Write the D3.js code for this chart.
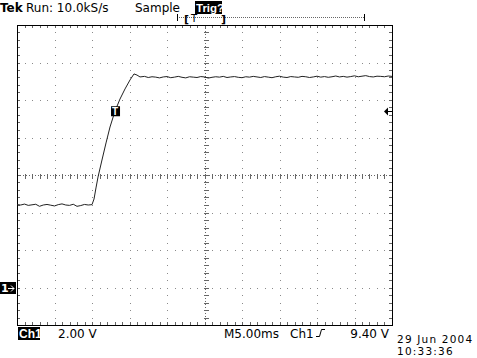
<!DOCTYPE html>
<html>
<head>
<meta charset="utf-8">
<script src="https://cdn.jsdelivr.net/npm/d3@7"></script>
<style>
  body { margin: 0; background: #fff; }
  svg { display: block; }
  text { font-family: "DejaVu Sans", sans-serif; font-size: 12px; fill: #000; }
</style>
</head>
<body>
<div id="chart"></div>
<script>
// time base: 5 ms/div, 10 divisions; Ch1: 2 V/div, ground 3 div below centre
const timeDivs = [0, 5, 10, 15, 20, 25, 30, 35, 40, 45, 50];
const voltDivs = [-2, 0, 2, 4, 6, 8, 10, 12, 14];

// waveform (ms, V)
const timeMs = [
  0, 0.5, 1, 1.5, 2, 2.5, 3, 3.5, 4, 4.5, 5, 5.5, 6, 6.5, 7, 7.5, 8, 8.5, 9, 9.5,
  10, 10.27, 10.53, 10.8, 11.33, 11.87, 12.4, 13.07, 13.73, 14.4, 15.07, 15.6, 16.0, 16.4,
  17, 17.5, 18, 18.5, 19, 19.5, 20, 20.5, 21, 21.5, 22, 22.5, 23, 23.5, 24, 24.5,
  25, 25.5, 26, 26.5, 27, 27.5, 28, 28.5, 29, 29.5, 30, 30.5, 31, 31.5, 32, 32.5,
  33, 33.5, 34, 34.5, 35, 35.5, 36, 36.5, 37, 37.5, 38, 38.5, 39, 39.5, 40, 40.5,
  41, 41.5, 42, 42.5, 43, 43.5, 44, 44.5, 45, 45.5, 46, 46.5, 47, 47.5, 48, 48.5,
  49, 49.5, 50
];
const ch1Volts = [
  4.42, 4.40, 4.45, 4.38, 4.41, 4.44, 4.33, 4.40, 4.43, 4.39, 4.35, 4.42, 4.46, 4.40, 4.38, 4.44, 4.33, 4.37, 4.43, 4.40,
  4.42, 4.72, 5.31, 5.89, 6.80, 7.71, 8.56, 9.41, 10.05, 10.59, 11.07, 11.39, 11.33, 11.23,
  11.26, 11.20, 11.24, 11.22, 11.18, 11.23, 11.25, 11.19, 11.22, 11.26, 11.21, 11.18, 11.24, 11.22, 11.20, 11.25,
  11.23, 11.17, 11.21, 11.24, 11.22, 11.26, 11.20, 11.23, 11.25, 11.21, 11.19, 11.24, 11.22, 11.26, 11.23, 11.20,
  11.25, 11.22, 11.19, 11.24, 11.27, 11.22, 11.20, 11.25, 11.23, 11.21, 11.26, 11.24, 11.20, 11.23, 11.27, 11.22,
  11.25, 11.21, 11.24, 11.28, 11.23, 11.26, 11.22, 11.25, 11.29, 11.24, 11.27, 11.30, 11.25, 11.23, 11.27, 11.26,
  11.24, 11.28, 11.26
];

const triggerLevel = 9.40;
const triggerTime = 13.07;

const width = 477, height = 358;
const frame = { left: 17, right: 392, top: 25, bottom: 325 };

const svg = d3.select("#chart").append("svg")
  .attr("width", width)
  .attr("height", height);

const x = d3.scaleLinear().domain([0, 50]).range([frame.left, frame.right]);
const y = d3.scaleLinear().domain([-2, 14]).range([frame.bottom, frame.top]);

const px = (v) => Math.round(v) + 0.5;
const minorX = d3.range(0, 50.01, 1);    // 0.2 div steps
const minorY = d3.range(-2, 14.01, 0.4);

// dotted graticule
const grid = svg.append("g").attr("class", "grid").attr("fill", "#8a8a8a");
timeDivs.slice(1, -1).filter((t) => t !== 25).forEach((t) => {
  grid.selectAll(null).data(minorY).enter().append("rect")
    .attr("x", Math.round(x(t))).attr("y", (v) => Math.round(y(v)))
    .attr("width", 1).attr("height", 1);
});
voltDivs.slice(1, -1).filter((v) => v !== 6).forEach((v) => {
  grid.selectAll(null).data(minorX).enter().append("rect")
    .attr("x", (t) => Math.round(x(t))).attr("y", Math.round(y(v)))
    .attr("width", 1).attr("height", 1);
});

// centre cross with minor ticks
const cross = svg.append("g").attr("stroke", "#666").attr("shape-rendering", "crispEdges");
const cx = px(x(25)), cy = px(y(6));
cross.append("line").attr("x1", cx).attr("x2", cx).attr("y1", frame.top).attr("y2", frame.bottom)
  .attr("stroke-dasharray", "1,2");
cross.append("line").attr("y1", cy).attr("y2", cy).attr("x1", frame.left).attr("x2", frame.right)
  .attr("stroke-dasharray", "1,2");
cross.selectAll(".vt").data(minorY).enter().append("line")
  .attr("x1", cx - 2).attr("x2", cx + 3).attr("y1", (v) => px(y(v))).attr("y2", (v) => px(y(v)));
cross.selectAll(".ht").data(minorX).enter().append("line")
  .attr("y1", cy - 2).attr("y2", cy + 3).attr("x1", (t) => px(x(t))).attr("x2", (t) => px(x(t)));

// frame ticks
const ticks = svg.append("g").attr("stroke", "#666").attr("shape-rendering", "crispEdges");
ticks.selectAll(".tt").data(minorX).enter().append("line")
  .attr("x1", (t) => px(x(t))).attr("x2", (t) => px(x(t)))
  .attr("y1", frame.top).attr("y2", frame.top + 3);
ticks.selectAll(".bt").data(minorX).enter().append("line")
  .attr("x1", (t) => px(x(t))).attr("x2", (t) => px(x(t)))
  .attr("y1", frame.bottom).attr("y2", frame.bottom - 3);
ticks.selectAll(".lt").data(minorY).enter().append("line")
  .attr("y1", (v) => px(y(v))).attr("y2", (v) => px(y(v)))
  .attr("x1", frame.left).attr("x2", frame.left + 3);
ticks.selectAll(".rt").data(minorY).enter().append("line")
  .attr("y1", (v) => px(y(v))).attr("y2", (v) => px(y(v)))
  .attr("x1", frame.right).attr("x2", frame.right - 3);

// frame
svg.append("rect")
  .attr("x", px(frame.left)).attr("y", px(frame.top))
  .attr("width", Math.round(frame.right - frame.left)).attr("height", frame.bottom - frame.top)
  .attr("fill", "none").attr("stroke", "#000").attr("shape-rendering", "crispEdges");

// waveform
const wave = timeMs.map((t, i) => [t, ch1Volts[i]]);
svg.append("path")
  .datum(wave)
  .attr("fill", "none")
  .attr("stroke", "#222")
  .attr("stroke-width", 1)
  .attr("d", d3.line().x((d) => x(d[0])).y((d) => y(d[1])));

// boxed label helper (white text on black)
function boxLabel(g, bx, by, w, h, txt, tx, ty, size) {
  g.append("rect").attr("x", bx).attr("y", by).attr("width", w).attr("height", h).attr("fill", "#000");
  g.append("text").attr("x", tx).attr("y", ty).style("fill", "#fff")
    .style("font-family", "'Liberation Sans', Arial, sans-serif")
    .style("font-size", size || "12px").style("font-weight", "bold").text(txt);
}

// trigger point marker on the trace
const mk = svg.append("g");
boxLabel(mk, x(triggerTime) - 4, y(triggerLevel) - 5, 9, 10, "T", x(triggerTime) - 3, y(triggerLevel) + 4, "10px");

// trigger level arrow at right edge
const ty = Math.round(y(triggerLevel)) + 0.5;
svg.append("path")
  .attr("d", `M${frame.right - 8},${ty} L${frame.right - 4},${ty - 4} L${frame.right - 4},${ty + 4} Z`)
  .attr("fill", "#000");
svg.append("line").attr("x1", frame.right - 4).attr("x2", frame.right).attr("y1", ty).attr("y2", ty)
  .attr("stroke", "#000");

// ground marker "1->"
const gy = Math.round(y(0));
const gm = svg.append("g");
gm.append("rect").attr("x", 0).attr("y", gy - 6).attr("width", 16).attr("height", 12).attr("fill", "#000");
gm.append("text").attr("x", 1).attr("y", gy + 4).style("fill", "#fff").style("font-weight", "bold")
  .style("font-size", "11px").text("1");
gm.append("path").attr("d", `M8,${gy + 0.5} L14,${gy + 0.5} M11,${gy - 2.5} L14,${gy + 0.5} L11,${gy + 3.5}`)
  .attr("stroke", "#fff").attr("fill", "none");

// header
const head = svg.append("g");
head.append("text").attr("x", 0).attr("y", 12).style("font-weight", "bold").text("Tek");
head.append("text").attr("x", 26).attr("y", 12).text("Run: 10.0kS/s");
head.append("text").attr("x", 135).attr("y", 12).text("Sample");
boxLabel(head, 195, 1, 27, 13, "Trig?", 196, 12, "11.5px");

// record position bar
const bar = svg.append("g").attr("stroke", "#000").attr("shape-rendering", "crispEdges");
bar.append("line").attr("x1", 177).attr("x2", 364).attr("y1", 17.5).attr("y2", 17.5)
  .attr("stroke", "#666").attr("stroke-dasharray", "1,1");
bar.append("line").attr("x1", 177.5).attr("x2", 177.5).attr("y1", 14).attr("y2", 21);
bar.append("line").attr("x1", 364.5).attr("x2", 364.5).attr("y1", 14).attr("y2", 21);
svg.append("text").attr("x", 184).attr("y", 23).style("font-weight", "bold").style("font-size", "11px").text("[");
svg.append("text").attr("x", 191).attr("y", 22).style("font-size", "10px").text("T");
svg.append("text").attr("x", 221).attr("y", 23).style("font-weight", "bold").style("font-size", "11px").text("]");

// footer
const foot = svg.append("g");
boxLabel(foot, 18, 327, 22, 13, "Ch1", 19, 338, "12px");
foot.append("text").attr("x", 58).attr("y", 338).text("2.00 V");
foot.append("text").attr("x", 224).attr("y", 338).text("M5.00ms");
foot.append("text").attr("x", 290).attr("y", 338).text("Ch1");
foot.append("path").attr("d", "M316,336.5 L319.5,336.5 L321.5,329.5 L325,329.5")
  .attr("stroke", "#000").attr("fill", "none");
foot.append("text").attr("x", 389).attr("y", 338).attr("text-anchor", "end").text("9.40 V");
foot.append("text").attr("x", 397).attr("y", 342.5)
  .style("font-size", "10.5px").style("letter-spacing", "1.2px").text("29 Jun 2004");
foot.append("text").attr("x", 397).attr("y", 355)
  .style("font-size", "10.5px").style("letter-spacing", "1.2px").text("10:33:36");
</script>
</body>
</html>
